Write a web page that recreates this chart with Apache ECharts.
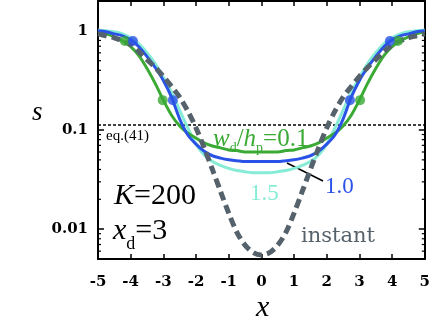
<!DOCTYPE html>
<html>
<head>
<meta charset="utf-8">
<script src="https://cdn.jsdelivr.net/npm/echarts@6/dist/echarts.min.js"></script>
<style>
  html, body { margin: 0; padding: 0; background: #fff; }
  #chart { width: 433px; height: 325px; }
</style>
</head>
<body>
<div id="chart"></div>
<script>
// data
const xCurve = [-5, -4.75, -4.5, -4.25, -4, -3.75, -3.5, -3.25, -3, -2.75, -2.5, -2.25, -2, -1.75, -1.5, -1.25, -1, -0.75, -0.5, -0.25,
  0, 0.25, 0.5, 0.75, 1, 1.25, 1.5, 1.75, 2, 2.25, 2.5, 2.75, 3, 3.25, 3.5, 3.75, 4, 4.25, 4.5, 4.75, 5]
const sGreen = [0.977, 0.933, 0.871, 0.794, 0.692, 0.562, 0.417, 0.295, 0.20, 0.141, 0.110, 0.093, 0.083, 0.074, 0.069, 0.066, 0.063, 0.062, 0.060, 0.060,
  0.060, 0.060, 0.060, 0.062, 0.063, 0.066, 0.069, 0.074, 0.083, 0.093, 0.110, 0.141, 0.20, 0.295, 0.417, 0.562, 0.692, 0.794, 0.871, 0.933, 0.977]
const sBlue = [1.0, 0.977, 0.933, 0.891, 0.813, 0.692, 0.55, 0.427, 0.316, 0.214, 0.129, 0.089, 0.072, 0.061, 0.055, 0.052, 0.050, 0.049, 0.048, 0.048,
  0.048, 0.048, 0.048, 0.049, 0.050, 0.052, 0.055, 0.061, 0.072, 0.089, 0.129, 0.214, 0.316, 0.427, 0.55, 0.692, 0.813, 0.891, 0.933, 0.977, 1.0]
const sCyan = [1.02, 1.0, 0.977, 0.933, 0.851, 0.741, 0.603, 0.468, 0.339, 0.240, 0.158, 0.105, 0.072, 0.056, 0.048, 0.044, 0.041, 0.039, 0.038, 0.037,
  0.037, 0.037, 0.038, 0.039, 0.041, 0.044, 0.048, 0.056, 0.072, 0.105, 0.158, 0.240, 0.339, 0.468, 0.603, 0.741, 0.851, 0.933, 0.977, 1.0, 1.02]

const xInstant = [-5, -4.75, -4.5, -4.25, -4, -3.75, -3.5, -3.25, -3, -2.75, -2.5, -2.25, -2, -1.75, -1.5, -1.25, -1, -0.75, -0.5, -0.25,
  0, 0.25, 0.5, 0.75, 1, 1.25, 1.5, 1.75, 2, 2.25, 2.5, 2.75, 3, 3.25, 3.5, 3.75, 4, 4.25, 4.5, 4.75, 5]
const sInstant = [0.933, 0.891, 0.851, 0.794, 0.724, 0.617, 0.513, 0.427, 0.347, 0.275, 0.214, 0.155, 0.105, 0.066, 0.040, 0.024, 0.0145, 0.0093, 0.0069, 0.0058,
  0.0055, 0.0058, 0.0069, 0.0093, 0.0145, 0.024, 0.040, 0.066, 0.105, 0.155, 0.214, 0.275, 0.347, 0.427, 0.513, 0.617, 0.724, 0.794, 0.851, 0.891, 0.933]

const dotsGreen = [[-4.18, 0.79], [-3.02, 0.20], [3.02, 0.20], [4.18, 0.79]]
const dotsBlue = [[-3.93, 0.79], [-2.71, 0.20], [2.71, 0.20], [3.93, 0.79]]

const eqLevel = 0.112
const yMinorTicks = [0.006, 0.007, 0.008, 0.009, 0.02, 0.03, 0.04, 0.05, 0.06, 0.07, 0.08, 0.09,
  0.2, 0.3, 0.4, 0.5, 0.6, 0.7, 0.8, 0.9]
const yLabels = { 1: '1', 0.1: '0.1', 0.01: '0.01' }

const pairs = (xs, ys) => xs.map((x, i) => [x, ys[i]])

const C_GREEN = '#3aaa35'
const C_BLUE = '#2b52e6'
const C_CYAN = '#86ecd6'
const C_GRAY = '#56626b'

const chart = echarts.init(document.getElementById('chart'))

const tickLabelFont = { fontFamily: 'DejaVu Serif', fontWeight: 'bold', fontSize: 15, color: '#000' }

const xAxisBase = {
  type: 'value', min: -5, max: 5, interval: 1,
  axisLine: { onZero: false, lineStyle: { color: '#000', width: 2 } },
  axisTick: { inside: true, length: 5, lineStyle: { color: '#000', width: 1.5 } },
  splitLine: { show: false }
}
const yAxisBase = {
  type: 'log', logBase: 10, min: 0.005, max: 2,
  axisLine: { show: true, onZero: false, lineStyle: { color: '#000', width: 2 } },
  axisTick: { show: true, inside: true, length: 6, lineStyle: { color: '#000', width: 1.5 } },
  splitLine: { show: false }
}

chart.setOption({
  animation: false,
  grid: { left: 98, right: 7, top: 1, bottom: 66 },
  xAxis: [
    Object.assign({}, xAxisBase, {
      position: 'bottom',
      axisLabel: Object.assign({ margin: 16 }, tickLabelFont)
    }),
    Object.assign({}, xAxisBase, { position: 'top', axisLabel: { show: false } })
  ],
  yAxis: [
    Object.assign({}, yAxisBase, {
      position: 'left',
      axisLabel: Object.assign({
        margin: 10,
        showMinLabel: false,
        showMaxLabel: false,
        formatter: (v) => {
          const k = Number(v.toPrecision(3))
          return yLabels[k] !== undefined ? yLabels[k] : ''
        }
      }, tickLabelFont)
    }),
    Object.assign({}, yAxisBase, { position: 'right', axisLabel: { show: false } })
  ],
  series: [
    {
      // minor log ticks on both y sides
      type: 'custom',
      silent: true,
      data: yMinorTicks.map(v => [0, v]),
      encode: { x: 0, y: 1 },
      renderItem: (params, api) => {
        const v = api.value(1)
        const pl = api.coord([-5, v])
        const pr = api.coord([5, v])
        const st = { stroke: '#000', lineWidth: 1.2 }
        return {
          type: 'group',
          children: [
            { type: 'line', shape: { x1: pl[0], y1: pl[1], x2: pl[0] + 3, y2: pl[1] }, style: st },
            { type: 'line', shape: { x1: pr[0], y1: pr[1], x2: pr[0] - 3, y2: pr[1] }, style: st }
          ]
        }
      }
    },
    {
      name: 'eq41', type: 'line', symbol: 'none',
      data: [[-5, eqLevel], [5, eqLevel]],
      lineStyle: { color: '#000', width: 1.5, type: [3, 2] }
    },
    {
      name: '1.5', type: 'line', symbol: 'none', smooth: 0.3,
      data: pairs(xCurve, sCyan),
      lineStyle: { color: C_CYAN, width: 3 }
    },
    {
      name: '0.1', type: 'line', symbol: 'none', smooth: 0.3,
      data: pairs(xCurve, sGreen),
      lineStyle: { color: C_GREEN, width: 3 }
    },
    {
      name: '1.0', type: 'line', symbol: 'none', smooth: 0.3,
      data: pairs(xCurve, sBlue),
      lineStyle: { color: C_BLUE, width: 3 }
    },
    {
      name: 'instant', type: 'line', symbol: 'none', smooth: 0.3,
      data: pairs(xInstant, sInstant),
      lineStyle: { color: C_GRAY, width: 5, type: [9, 5], cap: 'butt' }
    },
    {
      type: 'scatter', symbolSize: 10, z: 5,
      data: dotsGreen,
      itemStyle: { color: C_GREEN }
    },
    {
      type: 'scatter', symbolSize: 10, z: 6,
      data: dotsBlue,
      itemStyle: { color: C_BLUE }
    }
  ],
  graphic: [
    {
      type: 'text', left: 32, top: 99,
      style: { text: 's', font: 'italic 27px "Liberation Serif"', fill: '#000' }
    },
    {
      type: 'text', left: 256, top: 293,
      style: { text: 'x', font: 'italic 30px "Liberation Serif"', fill: '#000' }
    },
    {
      type: 'text', left: 106, top: 129,
      style: { text: 'eq.(41)', font: '15px "Liberation Serif"', fill: '#000' }
    },
    {
      type: 'text', left: 213, top: 127,
      style: {
        text: '{i|w}{s|d}{n|/}{i|h}{s|p}{n|=0.1}',
        fill: C_GREEN,
        rich: {
          i: { font: 'italic 25px "Liberation Serif"', fill: C_GREEN, verticalAlign: 'bottom' },
          n: { font: '25px "Liberation Serif"', fill: C_GREEN, verticalAlign: 'bottom' },
          s: { font: '14px "Liberation Serif"', fill: C_GREEN, verticalAlign: 'bottom', padding: [0, 0, -3, 0] }
        }
      }
    },
    {
      type: 'text', left: 250, top: 182,
      style: { text: '1.5', font: '23px "Liberation Serif"', fill: C_CYAN }
    },
    {
      type: 'text', left: 325, top: 175,
      style: { text: '1.0', font: '23px "Liberation Serif"', fill: C_BLUE }
    },
    {
      type: 'line',
      shape: { x1: 287, y1: 163, x2: 323, y2: 181 },
      style: { stroke: '#000', lineWidth: 1.5 }
    },
    {
      type: 'text', left: 301, top: 226,
      style: { text: 'instant', font: '21px "DejaVu Serif"', fill: C_GRAY }
    },
    {
      type: 'text', left: 114, top: 181,
      style: {
        text: '{i|K}{n|=200}',
        rich: {
          i: { font: 'italic 30px "Liberation Serif"', fill: '#000' },
          n: { font: '30px "Liberation Serif"', fill: '#000' }
        }
      }
    },
    {
      type: 'text', left: 113, top: 216,
      style: {
        text: '{i|x}{s|d}{n|=3}',
        rich: {
          i: { font: 'italic 30px "Liberation Serif"', fill: '#000', verticalAlign: 'bottom' },
          n: { font: '30px "Liberation Serif"', fill: '#000', verticalAlign: 'bottom' },
          s: { font: '18px "Liberation Serif"', fill: '#000', verticalAlign: 'bottom', padding: [0, 0, -7, 0] }
        }
      }
    }
  ]
})
</script>
</body>
</html>
